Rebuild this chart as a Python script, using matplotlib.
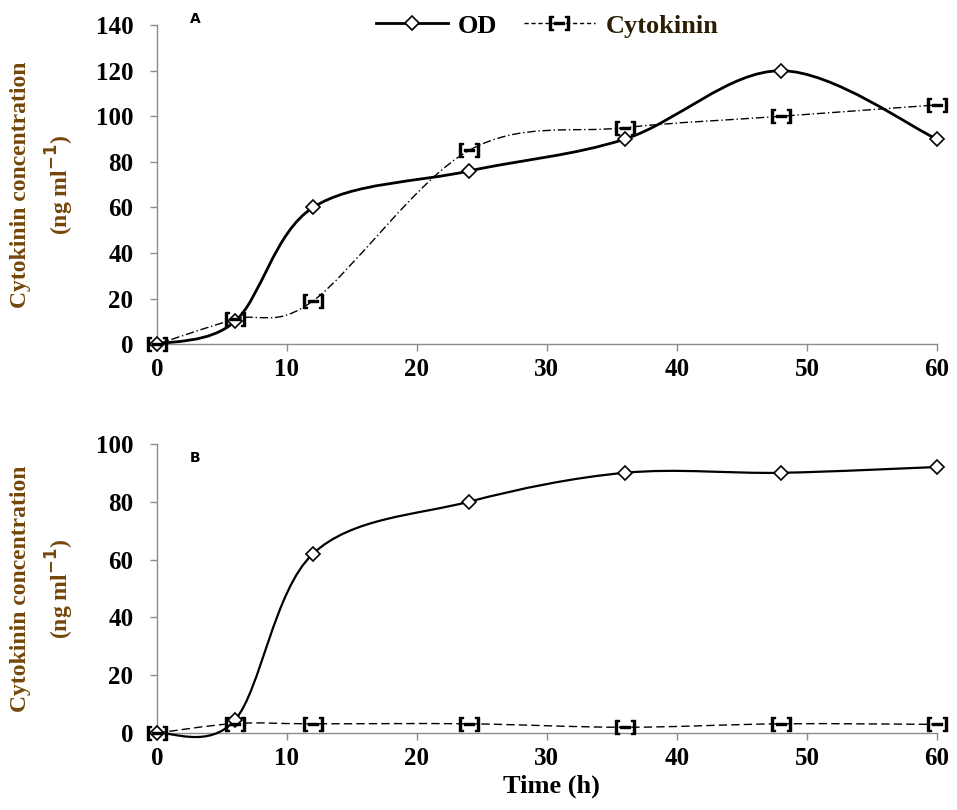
import numpy as np
import matplotlib.pyplot as plt
from matplotlib.path import Path
from matplotlib.patches import PathPatch
from matplotlib.lines import Line2D

plt.rcParams['font.family'] = ['Liberation Serif', 'DejaVu Serif']

time_h = [0, 6, 12, 24, 36, 48, 60]

# panel A
od_a = [0, 10, 60, 76, 90, 120, 90]
cyto_a = [0, 11, 19, 85, 95, 100, 105]

# panel B
od_b = [0, 4.5, 62, 80, 90, 90, 92]
cyto_b = [0, 3.3, 3.2, 3.2, 2, 3.2, 3]

label_color = '#74460a'
spine_color = '#8c8c8c'
cyto_marker = r'$[\!\!-\!\!]$'


def smooth_path(x, y):
    # Excel-style smoothed line, built as cubic Bezier segments
    pts = np.column_stack([x, y]).astype(float)
    n = len(pts)
    verts = [pts[0]]
    codes = [Path.MOVETO]
    for i in range(n - 1):
        p0 = pts[max(i - 1, 0)]
        p1 = pts[i]
        p2 = pts[i + 1]
        p3 = pts[min(i + 2, n - 1)]
        c1 = p1 + (p2 - p0) / 6.0
        c2 = p2 - (p3 - p1) / 6.0
        verts += [c1, c2, p2]
        codes += [Path.CURVE4] * 3
    return Path(verts, codes)


def draw_panel(ax, od, cyto, ymax, od_lw, cyto_ls):
    ax.add_patch(PathPatch(smooth_path(time_h, od), fill=False, color='black',
                           lw=od_lw, clip_on=False, zorder=3))
    ax.add_patch(PathPatch(smooth_path(time_h, cyto), fill=False, color='black',
                           lw=1.0, ls=cyto_ls, clip_on=False, zorder=2))
    ax.plot(time_h, od, ls='none', marker='D', ms=7, mfc='white', mec='black',
            mew=1.2, clip_on=False, zorder=4)
    ax.plot(time_h, cyto, ls='none', marker=cyto_marker, ms=14, color='black',
            clip_on=False, zorder=4)
    ax.set_xlim(0, 60)
    ax.set_ylim(0, ymax)
    ax.set_xticks(range(0, 61, 10))
    ax.set_yticks(range(0, ymax + 1, 20))
    for s in ['top', 'right']:
        ax.spines[s].set_visible(False)
    for s in ['left', 'bottom']:
        ax.spines[s].set_color(spine_color)
        ax.spines[s].set_linewidth(1.0)
    ax.tick_params(axis='both', direction='out', length=5, width=1,
                   color=spine_color, labelsize=18)
    ax.tick_params(axis='y', pad=12)
    ax.tick_params(axis='x', pad=5)
    for lab in ax.get_xticklabels() + ax.get_yticklabels():
        lab.set_fontweight('bold')
    ax.set_ylabel('Cytokinin concentration\n(ng ml$^{\\mathbf{-1}}$)',
                  fontsize=17, fontweight='bold', color=label_color,
                  linespacing=1.5)
    ax.yaxis.set_label_coords(-0.104, 0.5)


fig = plt.figure(figsize=(9.57, 8.1), dpi=100)
ax_a = fig.add_axes([0.164, 0.575, 0.815, 0.394])
ax_b = fig.add_axes([0.164, 0.095, 0.815, 0.357])

draw_panel(ax_a, od_a, cyto_a, 140, 2.0, (0, (6, 2, 1, 2)))
draw_panel(ax_b, od_b, cyto_b, 100, 1.6, (0, (6, 3)))

ax_b.set_xlabel('Time (h)', fontsize=19, fontweight='bold')
ax_b.xaxis.set_label_coords(0.506, -0.145)

fig.text(0.198, 0.977, 'A', family='DejaVu Sans', fontsize=10, fontweight='bold',
         va='center')
fig.text(0.198, 0.435, 'B', family='DejaVu Sans', fontsize=10, fontweight='bold',
         va='center')

handles = [
    Line2D([], [], color='black', lw=2, marker='D', ms=7, mfc='white',
           mec='black', mew=1.2),
    Line2D([], [], color='black', lw=1, ls=(0, (3, 2)), marker=cyto_marker,
           ms=14),
]
leg = fig.legend(handles, ['OD', 'Cytokinin'], loc='upper center',
                 bbox_to_anchor=(0.572, 1.012), ncol=2, frameon=False,
                 prop={'size': 19, 'weight': 'bold'}, handlelength=2.7,
                 columnspacing=1.0, handletextpad=0.4)
leg.get_texts()[1].set_color('#2b1e05')

fig.savefig('out.png', dpi=100)
